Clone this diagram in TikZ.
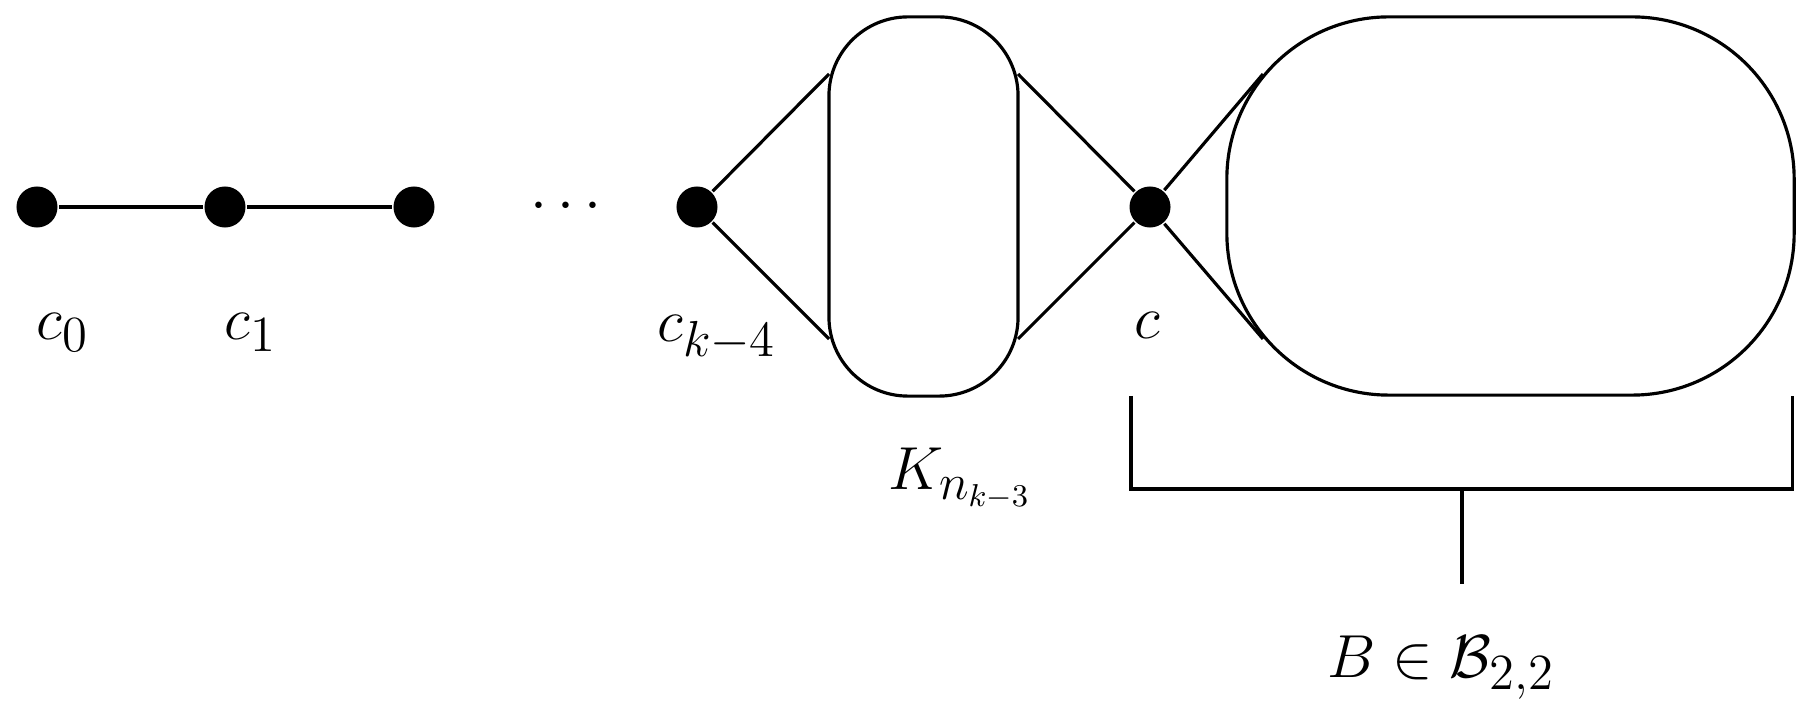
\documentclass[tikz,border=0pt]{standalone}
\begin{document}
\begin{tikzpicture}[x=0.01cm,y=-0.01cm,line width=0.9pt,
  dot/.style={circle,fill=black,inner sep=0pt,minimum size=0.41cm},
  lbl/.style={anchor=base,inner sep=0pt,font=\fontsize{19}{23}\selectfont},
  blob/.style={draw,inner sep=0pt}]
\useasboundingbox (0,0) rectangle (1818,716);
% vertices
\node[dot] (c0) at (37,207) {};
\node[dot] (c1) at (225,207) {};
\node[dot] (c2) at (414,207) {};
\node[dot] (ck) at (697,207) {};
\node[dot] (c) at (1150,207) {};
% blobs
\node[blob,rounded corners=0.79cm,minimum width=1.89cm,minimum height=3.79cm] (K) at (923.5,206.5) {};
\node[blob,rounded corners=1.62cm,minimum width=5.67cm,minimum height=3.78cm] (B) at (1510.5,206) {};
% attachment points
\coordinate (k1) at (829,74);
\coordinate (k2) at (829,339);
\coordinate (k3) at (1018,74);
\coordinate (k4) at (1018,339);
\coordinate (b1) at (1263,74);
\coordinate (b2) at (1263,339);
% edges
\draw (c0) -- (c1);
\draw (c1) -- (c2);
\draw (ck) -- (k1);
\draw (ck) -- (k2);
\draw (k3) -- (c);
\draw (k4) -- (c);
\draw (c) -- (b1);
\draw (c) -- (b2);
% bracket
\coordinate (bl) at (1131,396);
\coordinate (br) at (1792.5,396);
\coordinate (bm) at (1462,489);
\coordinate (bs) at (1462,584);
\draw (bl) -- (1131,489) -- (1792.5,489) -- (br);
\draw (bm) -- (bs);
% labels
\node[lbl] (l0) at (63,340) {$c_0$};
\node[lbl] (l1) at (251,340) {$c_1$};
\node[lbl] (lk) at (717,342) {$c_{k-4}$};
\node[lbl] (lc) at (1147,339) {$c$};
\node[lbl] (lK) at (960,490) {$K_{n_{k-3}}$};
\node[lbl] (lB) at (1441,678) {$B\in\mathcal{B}_{2,2}$};
\node[lbl] (dots) at (566,221) {${\cdot}\kern3pt{\cdot}\kern3pt{\cdot}$};
\end{tikzpicture}
\end{document}
